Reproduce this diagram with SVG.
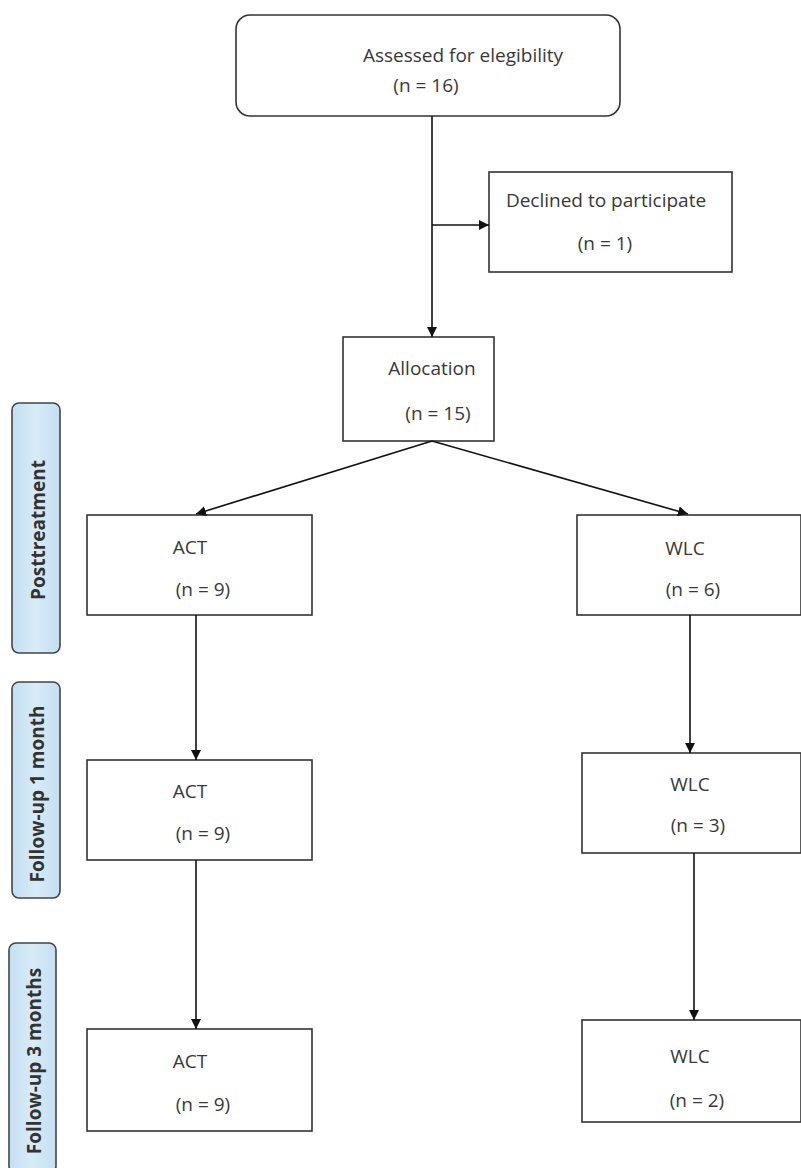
<svg xmlns="http://www.w3.org/2000/svg" width="801" height="1168" viewBox="0 0 801 1168">
<defs>
<marker id="ah" viewBox="0 0 10 10" refX="10" refY="5" markerWidth="10" markerHeight="10" markerUnits="userSpaceOnUse" orient="auto">
<path d="M0,0 L10,5 L0,10 z" fill="#111"/>
</marker>
<linearGradient id="blue" x1="0" y1="0" x2="1" y2="0">
<stop offset="0" stop-color="#c4dff2"/>
<stop offset="0.5" stop-color="#d8ebf8"/>
<stop offset="1" stop-color="#c4dff2"/>
</linearGradient>
</defs>
<style>
.box{fill:#fff;stroke:#333;stroke-width:1.6}
.side{fill:url(#blue);stroke:#444;stroke-width:1.6}
.t{font-family:"Open Sans","Liberation Sans",sans-serif;font-size:19px;fill:#383838;text-anchor:middle}
.s{font-family:"Open Sans","Liberation Sans",sans-serif;font-size:19px;font-weight:bold;fill:#333;text-anchor:middle}
.c{fill:none;stroke:#111;stroke-width:1.6}
</style>
<rect width="801" height="1168" fill="#fff"/>
<g id="side-post"><rect class="side" x="12" y="403" width="48" height="250" rx="7"/><text class="s" transform="translate(45,530) rotate(-90)">Posttreatment</text></g>
<g id="side-fu1"><rect class="side" x="12" y="682" width="48" height="216" rx="7"/><text class="s" transform="translate(44,794) rotate(-90)">Follow-up 1 month</text></g>
<g id="side-fu3"><rect class="side" x="9" y="943" width="47" height="230" rx="7"/><text class="s" transform="translate(41,1061) rotate(-90)">Follow-up 3 months</text></g>

<g id="assessed"><rect class="box" x="236" y="15" width="384" height="101" rx="14"/><text class="t" x="463" y="62">Assessed for elegibility</text><text class="t" x="426" y="92">(n = 16)</text></g>
<g id="declined"><rect class="box" x="489" y="172" width="243" height="100"/><text class="t" x="606" y="207" font-size="17">Declined to participate</text><text class="t" x="605" y="250" font-size="17">(n = 1)</text></g>
<g id="allocation"><rect class="box" x="343" y="337" width="151" height="104"/><text class="t" x="432" y="375">Allocation</text><text class="t" x="438" y="420">(n = 15)</text></g>
<g id="act1"><rect class="box" x="87" y="515" width="225" height="100"/><text class="t" x="190" y="554">ACT</text><text class="t" x="203" y="596">(n = 9)</text></g>
<g id="wlc1"><rect class="box" x="577" y="515" width="224" height="100"/><text class="t" x="685" y="555">WLC</text><text class="t" x="693" y="596">(n = 6)</text></g>
<g id="act2"><rect class="box" x="87" y="760" width="225" height="100"/><text class="t" x="190" y="798">ACT</text><text class="t" x="203" y="840">(n = 9)</text></g>
<g id="wlc2"><rect class="box" x="582" y="753" width="219" height="100"/><text class="t" x="690" y="791">WLC</text><text class="t" x="698" y="832">(n = 3)</text></g>
<g id="act3"><rect class="box" x="87" y="1029" width="225" height="102"/><text class="t" x="190" y="1068">ACT</text><text class="t" x="203" y="1111">(n = 9)</text></g>
<g id="wlc3"><rect class="box" x="582" y="1020" width="219" height="102"/><text class="t" x="690" y="1063">WLC</text><text class="t" x="697" y="1107">(n = 2)</text></g>

<g id="connectors">
<path class="c" d="M432,116 V337" marker-end="url(#ah)"/>
<path class="c" d="M432,225 H489" marker-end="url(#ah)"/>
<path class="c" d="M432,441 L196,514" marker-end="url(#ah)"/>
<path class="c" d="M432,441 L688,514" marker-end="url(#ah)"/>
<path class="c" d="M196,615 V760" marker-end="url(#ah)"/>
<path class="c" d="M690,615 V753" marker-end="url(#ah)"/>
<path class="c" d="M196,860 V1029" marker-end="url(#ah)"/>
<path class="c" d="M694,853 V1020" marker-end="url(#ah)"/>
</g>
</svg>
